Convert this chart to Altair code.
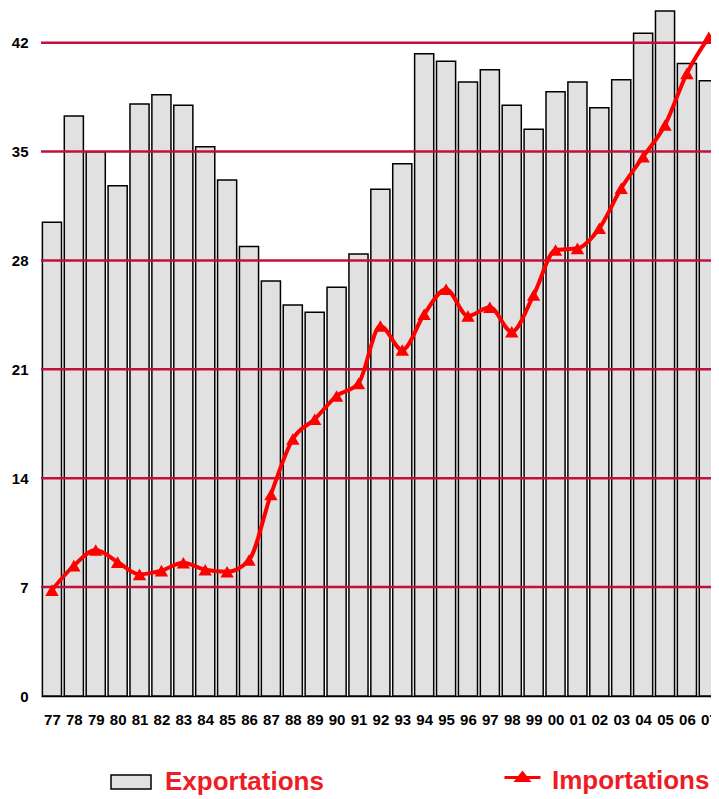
import json
import altair as alt
import pandas as pd

years = ["77", "78", "79", "80", "81", "82", "83", "84", "85", "86",
         "87", "88", "89", "90", "91", "92", "93", "94", "95", "96",
         "97", "98", "99", "00", "01", "02", "03", "04", "05", "06", "07"]
exportations = [30.45, 37.29, 34.99, 32.81, 38.06, 38.66, 37.97, 35.31, 33.17, 28.89,
                26.68, 25.14, 24.67, 26.28, 28.42, 32.57, 34.22, 41.29, 40.80, 39.47,
                40.26, 37.97, 36.43, 38.85, 39.47, 37.82, 39.62, 42.60, 44.04, 40.67, 39.56]
importations = [6.81, 8.38, 9.39, 8.61, 7.82, 8.06, 8.57, 8.12, 7.99, 8.74,
                12.95, 16.52, 17.79, 19.29, 20.10, 23.79, 22.24, 24.54, 26.15, 24.43,
                24.99, 23.42, 25.78, 28.67, 28.78, 30.07, 32.64, 34.67, 36.71, 40.03, 42.35]
y_ticks = [0, 7, 14, 21, 28, 35, 42]
series_names = ["Exportations", "Importations"]

df = pd.DataFrame({
    "idx": list(range(len(years))),
    "year": years,
    "exp": exportations,
    "imp": importations,
    "s_exp": series_names[0],
    "s_imp": series_names[1],
})
grid_df = pd.DataFrame({"v": y_ticks[1:]})

FONT = "Liberation Sans"
RED_TXT = "#ee1c25"

x_scale = alt.Scale(domain=[-0.5, 30.1], nice=False, zero=False, padding=0)
x_axis = alt.Axis(
    values=list(range(len(years))),
    labelExpr=json.dumps(years) + "[datum.value]",
    title=None, grid=False, ticks=False,
    domain=True, domainColor="black", domainWidth=1.5,
    labelFont=FONT, labelFontSize=15, labelFontWeight="bold",
    labelColor="black", labelPadding=16, labelOverlap=False,
)
y_scale = alt.Scale(domain=[0, 44.23], nice=False, zero=True, padding=0)
y_axis = alt.Axis(
    values=y_ticks, format="d", title=None, grid=False, ticks=False,
    domain=False, labelFont=FONT, labelFontSize=15, labelFontWeight="bold",
    labelColor="black", labelPadding=13, labelOverlap=False,
)


def X():
    return alt.X("idx:Q", scale=x_scale, axis=x_axis)


def Y(field):
    return alt.Y(field, scale=y_scale, axis=y_axis)


base = alt.Chart(df)

bars = base.mark_bar(width=19.1, stroke="black", strokeWidth=1.5, clip=True).encode(
    x=X(),
    y=Y("exp:Q"),
    fill=alt.Fill(
        "s_exp:N",
        scale=alt.Scale(domain=[series_names[0]], range=["#e1e1e1"]),
        legend=alt.Legend(
            orient="none", legendX=69, legendY=753, title=None,
            symbolType="M-1,-0.35L1,-0.35L1,0.35L-1,0.35Z", symbolSize=1600,
            symbolStrokeColor="black", symbolStrokeWidth=1.5,
            labelFont=FONT, labelFontSize=26, labelFontWeight="bold",
            labelColor=RED_TXT, labelOffset=13, labelLimit=400,
        ),
    ),
)

grid = alt.Chart(grid_df).mark_rule(color="#c0103c", strokeWidth=2.5).encode(
    y=Y("v:Q")
)

line = base.mark_line(color="#ff0000", strokeWidth=4, interpolate="monotone", clip=True).encode(
    x=X(),
    y=Y("imp:Q"),
)

points = base.mark_point(shape="triangle-up", filled=True, size=180, opacity=1, clip=True).encode(
    x=X(),
    y=Y("imp:Q"),
    fill=alt.Fill(
        "s_imp:N",
        scale=alt.Scale(domain=[series_names[1]], range=["#ff0000"]),
        legend=alt.Legend(
            orient="none", legendX=462, legendY=753, title=None,
            symbolType="M-1,-0.17L1,-0.17M-0.33,0L0,-0.42L0.33,0Z", symbolSize=1296,
            symbolStrokeColor="#ff0000", symbolStrokeWidth=3,
            labelFont=FONT, labelFontSize=26, labelFontWeight="bold",
            labelColor=RED_TXT, labelOffset=10, labelLimit=400,
        ),
    ),
)

chart = (
    alt.layer(bars, grid, line, points)
    .resolve_scale(fill="independent")
    .properties(
        width=670, height=688,
        autosize=alt.AutoSizeParams(type="none"),
        padding={"left": 33, "top": 0, "right": 0, "bottom": 101},
        background="white",
    )
    .configure_view(stroke=None)
)

chart.save("out.html", embed_options={"renderer": "svg", "actions": False})
